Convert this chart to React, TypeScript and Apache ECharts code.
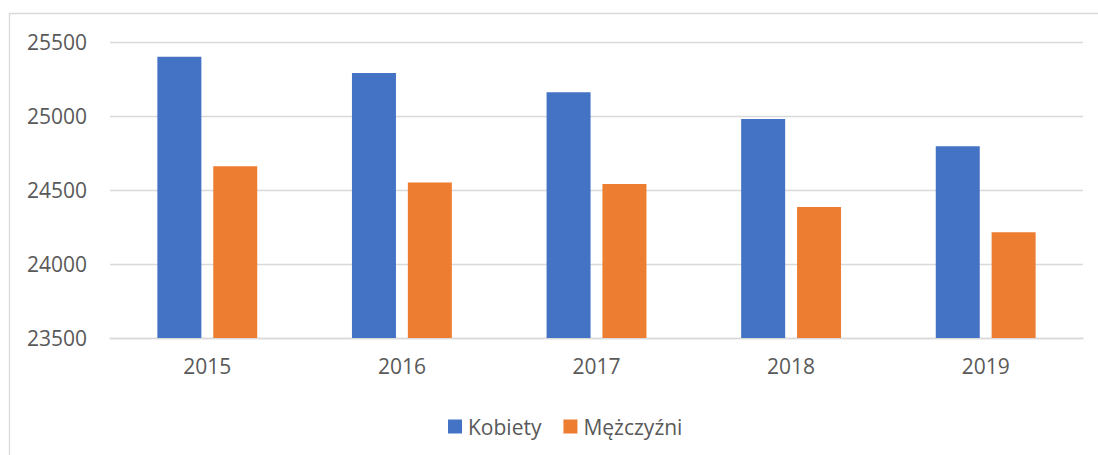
import React, { useEffect, useRef } from "react";
import * as echarts from "echarts";

const categories = ["2015", "2016", "2017", "2018", "2019"];
const kobiety = [25400, 25290, 25160, 24980, 24795];
const mezczyzni = [24660, 24550, 24540, 24385, 24215];
const seriesNames = ["Kobiety", "Mężczyźni"];

const FONT = "'Open Sans', 'Noto Sans', sans-serif";
const TEXT = "#595959";
const GRID = "#d9d9d9";
const FS = 21;

export default function App() {
  const ref = useRef<HTMLDivElement>(null);
  useEffect(() => {
    document.body.style.margin = "0";
    const chart = echarts.init(ref.current!, null, { renderer: "svg" });
    chart.setOption({
      animation: false,
      textStyle: { fontFamily: FONT },
      graphic: [
        {
          type: "rect",
          shape: { x: 9.5, y: 13.5, width: 1100, height: 460 },
          style: { fill: "none", stroke: GRID, lineWidth: 1.3 },
          silent: true,
        },
      ],
      grid: { left: 110, right: 15, top: 42, bottom: 117 },
      legend: {
        data: seriesNames,
        top: 411,
        left: 443,
        itemWidth: 14,
        itemHeight: 14,
        itemGap: 22,
        icon: "rect",
        textStyle: { color: TEXT, fontSize: FS, fontFamily: FONT, padding: [0, 0, 0, 1] },
      },
      xAxis: {
        type: "category",
        data: categories,
        axisLine: { show: true, lineStyle: { color: GRID, width: 1.3 } },
        axisTick: { show: false },
        axisLabel: { color: TEXT, fontSize: FS, fontFamily: FONT, margin: 17 },
      },
      yAxis: {
        type: "value",
        min: 23500,
        max: 25500,
        interval: 500,
        axisLine: { show: false },
        axisTick: { show: false },
        splitLine: { lineStyle: { color: GRID, width: 1.3 } },
        axisLabel: {
          color: TEXT,
          fontSize: FS,
          fontFamily: FONT,
          margin: 23,
          formatter: (v: number) => String(v),
        },
      },
      series: [
        {
          name: seriesNames[0],
          type: "bar",
          data: kobiety,
          barWidth: 44,
          barGap: "27%",
          itemStyle: { color: "#4472c4" },
        },
        {
          name: seriesNames[1],
          type: "bar",
          data: mezczyzni,
          barWidth: 44,
          barGap: "27%",
          itemStyle: { color: "#ed7d31" },
        },
      ],
    });
    return () => chart.dispose();
  }, []);
  return <div ref={ref} style={{ width: 1098, height: 455 }} />;
}
